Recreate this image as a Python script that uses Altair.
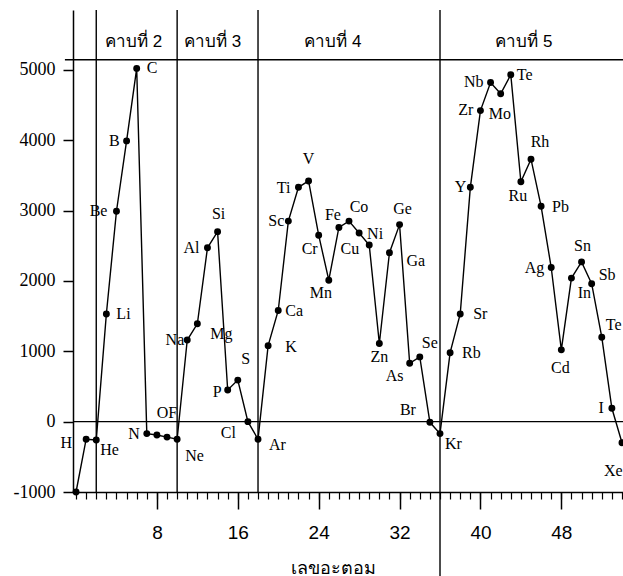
import altair as alt
import pandas as pd

# ---------------- data ----------------
atomic_number = list(range(0, 55))
symbols = ["", "H", "He", "Li", "Be", "B", "C", "N", "", "OF", "Ne",
           "Na", "Mg", "Al", "Si", "P", "S", "Cl", "Ar",
           "K", "Ca", "Sc", "Ti", "V", "Cr", "Mn", "Fe", "Co", "Ni", "Cu", "Zn",
           "Ga", "Ge", "As", "Se", "Br", "Kr",
           "Rb", "Sr", "Y", "Zr", "Nb", "Mo", "Te", "Ru", "Rh", "Pb", "Ag", "Cd",
           "In", "Sn", "Sb", "Te", "I", "Xe"]
values = [-1000, -250, -260, 1530, 2990, 3990, 5020, -170, -190, -220, -250,
          1160, 1390, 2470, 2700, 450, 590, 0, -250,
          1080, 1580, 2850, 3330, 3420, 2650, 2010, 2760, 2850, 2680, 2510, 1110,
          2400, 2800, 830, 920, -10, -170,
          980, 1530, 3330, 4420, 4820, 4660, 4930, 3410, 3730, 3060, 2190, 1020,
          2040, 2270, 1960, 1200, 190, -300]

period_names = ["คาบที่ 2", "คาบที่ 3", "คาบที่ 4", "คาบที่ 5"]
period_label_x = [5.7, 13.5, 25.4, 44.3]
period_bounds = [2, 10, 18, 36]
x_tick_labels = [8, 16, 24, 32, 40, 48]
y_tick_labels = [-1000, 0, 1000, 2000, 3000, 4000, 5000]

# ---------------- label placement (style: pixel offsets, alignment) ----------------
placement = {
    1: (-14, 4, "right"), 2: (4, 10, "left"), 3: (10, 0, "left"), 4: (-9, 0, "right"),
    5: (-7, 0, "right"), 6: (10, 0, "left"), 7: (-7, 0, "right"), 9: (0, -24, "center"),
    10: (8, 17, "left"), 11: (-3, 0, "right"), 12: (13, 10, "left"), 13: (-8, 0, "right"),
    14: (1, -18, "center"), 15: (-6, 2, "right"), 16: (8, -21, "center"),
    17: (-12, 11, "right"), 18: (11, 6, "left"), 19: (17, 1, "left"), 20: (7, 1, "left"),
    21: (-4, 0, "right"), 22: (-8, 1, "right"), 23: (0, -22, "center"),
    24: (-1, 14, "right"), 25: (-8, 13, "center"), 26: (-6, -12, "center"),
    27: (10, -14, "center"), 28: (8, 1, "left"), 29: (-10, 4, "right"),
    30: (0, 13, "center"), 31: (17, 8, "left"), 32: (3, -16, "center"),
    33: (-15, 13, "center"), 34: (10, -14, "center"), 35: (-14, -12, "right"),
    36: (5, 10, "left"), 37: (12, 0, "left"), 38: (13, 0, "left"), 39: (-4, 0, "right"),
    40: (-7, -1, "right"), 41: (-7, 0, "right"), 42: (-12, 20, "left"),
    43: (6, 0, "left"), 44: (-3, 14, "center"), 45: (9, -17, "center"),
    46: (11, 1, "left"), 47: (-7, 0, "right"), 48: (-1, 18, "center"),
    49: (13, 15, "center"), 50: (1, -16, "center"), 51: (7, -9, "left"),
    52: (4, -12, "left"), 53: (-8, 0, "right"), 54: (-18, 28, "left"),
}

# ---------------- geometry ----------------
WIDTH, HEIGHT = 550, 482
XMIN, XMAX = -0.3, 54.1
YMIN, YMAX = -1000, 5850
PX_X = WIDTH / (XMAX - XMIN)
PX_Y = HEIGHT / (YMAX - YMIN)
TOP_LINE = 5142
HEADER_Y = 5400

SERIF = "Liberation Serif"
xs = alt.Scale(domain=[XMIN, XMAX], nice=False, zero=False)
ys = alt.Scale(domain=[YMIN, YMAX], nice=False, zero=False)

df = pd.DataFrame({"z": atomic_number, "v": values, "sym": symbols})
lab_rows = []
for z, v, s in zip(atomic_number, values, symbols):
    if z in placement and s:
        dx, dy, al = placement[z]
        lab_rows.append({"z": z, "v": v, "sym": s, "dx": dx, "dy": dy, "al": al})
lab = pd.DataFrame(lab_rows)

x_main_axis = alt.Axis(values=x_tick_labels, tickSize=17, labelPadding=14,
                       labelFont="Liberation Sans", labelFontSize=19, labelColor="black",
                       domainColor="black", domainWidth=1.5, tickColor="black", tickWidth=1.5,
                       grid=False, orient="bottom", title="เลขอะตอม",
                       titleFontSize=18, titleFontWeight="normal", titleColor="black",
                       titleX=260, titleY=76, titleBaseline="middle", titleAlign="center")
x_minor_axis = alt.Axis(values=list(range(0, 55)), tickSize=7, labels=False, domain=False,
                        tickColor="black", tickWidth=1.2, grid=False, orient="bottom", title=None)
y_axis = alt.Axis(values=y_tick_labels, tickSize=10, labelPadding=8, labelFont=SERIF,
                  labelFontSize=18, labelColor="black", domainColor="black", domainWidth=1.5,
                  labelExpr="'' + datum.value",
                  tickColor="black", tickWidth=1.5, grid=False, title=None, orient="left")

line = alt.Chart(df).mark_line(color="black", strokeWidth=1.4).encode(
    x=alt.X("z:Q", scale=xs, axis=x_main_axis),
    y=alt.Y("v:Q", scale=ys, axis=y_axis),
)
minor = alt.Chart(df).mark_circle(opacity=0).encode(
    x=alt.X("z:Q", scale=xs, axis=x_minor_axis),
    y=alt.Y("v:Q", scale=ys, axis=None),
)
points = alt.Chart(df).mark_circle(color="black", size=48, opacity=1).encode(
    x=alt.X("z:Q", scale=xs, axis=None),
    y=alt.Y("v:Q", scale=ys, axis=None),
)

label_layers = []
for al in ["left", "right", "center"]:
    label_layers.append(
        alt.Chart(lab).transform_filter(alt.datum.al == al).transform_calculate(
            lx=f"datum.z + datum.dx / {PX_X}",
            ly=f"datum.v - datum.dy / {PX_Y}",
        ).mark_text(align=al, baseline="middle", font=SERIF, fontSize=16, color="black").encode(
            x=alt.X("lx:Q", scale=xs, axis=None),
            y=alt.Y("ly:Q", scale=ys, axis=None),
            text="sym:N",
        )
    )

bounds_df = pd.DataFrame({"x": period_bounds, "top": [YMAX] * 4,
                          "bottom": [YMIN, YMIN, YMIN, -2200]})
vrules = alt.Chart(bounds_df).mark_rule(color="black", strokeWidth=1.4).encode(
    x=alt.X("x:Q", scale=xs, axis=None),
    y=alt.Y("top:Q", scale=ys, axis=None),
    y2="bottom:Q",
)

hr_df = pd.DataFrame({"y": [0, TOP_LINE], "x1": [XMIN, -1.1], "x2": [XMAX, XMAX]})
hrules = alt.Chart(hr_df).mark_rule(color="black", strokeWidth=1.4).encode(
    x=alt.X("x1:Q", scale=xs, axis=None),
    x2="x2:Q",
    y=alt.Y("y:Q", scale=ys, axis=None),
)

hdr_df = pd.DataFrame({"x": period_label_x, "name": period_names, "y": [HEADER_Y] * 4})
headers = alt.Chart(hdr_df).mark_text(fontSize=17, color="black", baseline="middle").encode(
    x=alt.X("x:Q", scale=xs, axis=None),
    y=alt.Y("y:Q", scale=ys, axis=None),
    text="name:N",
)

chart = alt.layer(line, minor, vrules, hrules, points, *label_layers, headers).resolve_axis(
    x="independent", y="independent"
).properties(
    width=WIDTH, height=HEIGHT,
    autosize=alt.AutoSizeParams(type="none"),
    padding={"left": 73, "top": 10, "right": 0, "bottom": 84},
    background="white",
).configure_view(stroke=None).configure_axisLeft(labelFont=SERIF, labelFontSize=18)

chart.save("out.html", embed_options={"renderer": "svg", "actions": False})
